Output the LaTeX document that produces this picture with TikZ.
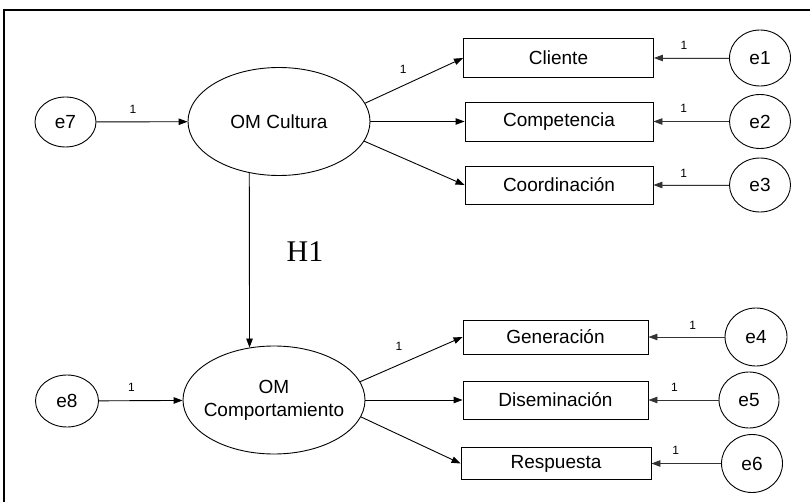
\documentclass[tikz,border=0pt]{standalone}
\usepackage{fontspec}
\setmainfont{Liberation Sans}
\newfontfamily\serifH{Liberation Serif}
\usetikzlibrary{shapes.geometric,arrows.meta}
\newcommand{\one}{{\fontsize{12}{14}\selectfont 1}}
\begin{document}
\begin{tikzpicture}[x=1pt,y=-1pt,
  lat/.style={draw,ellipse,line width=0.9pt,inner sep=0pt,minimum width=182pt,minimum height=108pt,font=\fontsize{19}{23}\selectfont},
  err/.style={draw,ellipse,line width=0.9pt,inner sep=0pt,minimum width=61pt,font=\fontsize{19}{23}\selectfont},
  obs/.style={draw,rectangle,line width=0.9pt,inner sep=0pt,font=\fontsize{19}{23}\selectfont},
  arr/.style={-{Triangle[length=9pt,width=6.5pt]},line width=0.9pt},
  earr/.style={arr,draw=black!80,fill=black},
  lbl/.style={inner sep=0pt,text=black}]
\useasboundingbox (0,0) rectangle (810,502);
\clip (0,0) rectangle (810,502);
\draw[line width=2pt] (4,10) rectangle (830,530);

% latent variables
\node[lat] (cult) at (279,121.5) {OM Cultura};
\node[lat] (comp) at (274,400) {\makebox[0pt]{\begin{tabular}{@{}c@{}}OM\\Comportamiento\end{tabular}}};

% error terms of latents
\node[err,minimum height=50pt] (e7) at (65.5,122) {e7};
\node[err,minimum width=63pt,minimum height=52pt] (e8) at (67,401) {e8};

% observed
\node[obs,minimum width=190pt,minimum height=39pt] (cli) at (558.5,58) {Cliente};
\node[obs,minimum width=188pt,minimum height=39pt] (cpt) at (559,121.5) {Competencia};
\node[obs,minimum width=188pt,minimum height=38pt] (coo) at (559,185) {Coordinación};
\node[obs,minimum width=185pt,minimum height=34pt] (gen) at (555.5,337) {Generación};
\node[obs,minimum width=185pt,minimum height=38pt] (dis) at (555.5,400) {Diseminación};
\node[obs,minimum width=190pt,minimum height=32pt] (res) at (556,463.5) {Respuesta};

% error terms of observed
\node[err,minimum height=56pt] (e1) at (760,58) {e1};
\node[err,minimum height=54pt] (e2) at (760,121.5) {e2};
\node[err,minimum height=54pt] (e3) at (760,185) {e3};
\node[err,minimum width=62pt,minimum height=58pt] (e4) at (756,337) {e4};
\node[err,minimum width=60pt,minimum height=56pt] (e5) at (749,400) {e5};
\node[err,minimum width=61pt,minimum height=58pt] (e6) at (752,463.5) {e6};

% H1 label
\node[inner sep=0pt,font=\serifH\fontsize{30}{34}\selectfont] (h1) at (305,252) {H1};

% arrows
\draw[arr] (e7) -- node[lbl,pos=0.4,yshift=12pt] {\one} (cult);
\draw[arr] (e8) -- node[lbl,pos=0.39,yshift=13pt] {\one} (comp);
\draw[arr] (cult.-120.2) -- (comp.115.7);

\draw[arr] (cult.12) -- node[lbl,pos=0.39,yshift=16pt] {\one} (cli.west);
\draw[arr] (cult) -- (cpt);
\draw[arr] (cult.-13.4) -- (coo.west);

\draw[arr] (comp.12.3) -- node[lbl,pos=0.38,yshift=18pt] {\one} (gen.west);
\draw[arr] (comp) -- (dis);
\draw[arr] (comp.-11.8) -- (res.west);

\draw[earr] (e1) -- node[lbl,pos=0.6,yshift=13pt] {\one} (cli);
\draw[earr] (e2) -- node[lbl,pos=0.6,yshift=13pt] {\one} (cpt);
\draw[earr] (e3) -- node[lbl,pos=0.6,yshift=12pt] {\one} (coo);
\draw[earr] (e4) -- node[lbl,pos=0.42,yshift=12pt] {\one} (gen);
\draw[earr] (e5) -- node[lbl,pos=0.63,yshift=13pt] {\one} (dis);
\draw[earr] (e6) -- node[lbl,pos=0.65,yshift=13pt] {\one} (res);
\end{tikzpicture}
\end{document}
